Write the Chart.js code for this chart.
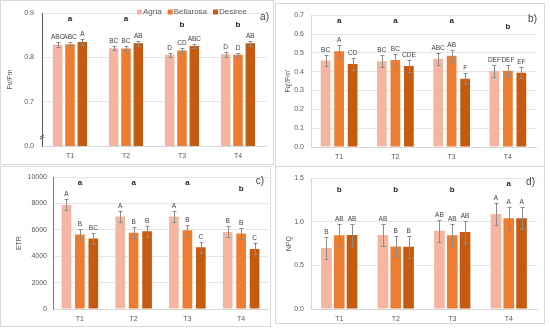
<!DOCTYPE html>
<html>
<head>
<meta charset="utf-8">
<script src="https://cdn.jsdelivr.net/npm/chart.js@4.4.2/dist/chart.umd.min.js"></script>
<style>
  html, body { margin: 0; padding: 0; background: #fff; }
  body { width: 550px; height: 335px; position: relative; overflow: hidden; }
  .panel { position: absolute; box-sizing: border-box; border: 1px solid #d9d9d9; background: #fff; }
  .panel canvas { display: block; }
</style>
</head>
<body>
<div class="panel" id="panel-a"><canvas id="chart-a"></canvas></div>
<div class="panel" id="panel-b"><canvas id="chart-b"></canvas></div>
<div class="panel" id="panel-c"><canvas id="chart-c"></canvas></div>
<div class="panel" id="panel-d"><canvas id="chart-d"></canvas></div>
<script>
// ── Data ─────────────────────────────────────────────────────
const categories = ['T1', 'T2', 'T3', 'T4'];
const cultivars  = ['Agria', 'Bellarosa', 'Desiree'];

// a) Fv/Fm
const fvfmAgria     = [0.829, 0.821, 0.806, 0.807];
const fvfmBellarosa = [0.830, 0.820, 0.816, 0.806];
const fvfmDesiree   = [0.835, 0.832, 0.826, 0.832];
const fvfmErr       = [[0.005, 0.005, 0.005, 0.005], [0.005, 0.005, 0.005, 0.005], [0.006, 0.005, 0.005, 0.005]];
const fvfmLetters   = [['ABC', 'BC', 'D', 'D'], ['ABC', 'BC', 'CD', 'D'], ['A', 'AB', 'ABC', 'AB']];
const fvfmGroups    = ['a', 'a', 'b', 'b'];
const fvfmTicks     = ['0.0', '0.7', '0.8', '0.9'];

// b) Fq'/Fm'
const fqfmAgria     = [0.460, 0.455, 0.469, 0.404];
const fqfmBellarosa = [0.509, 0.462, 0.484, 0.405];
const fqfmDesiree   = [0.441, 0.430, 0.363, 0.395];
const fqfmErr       = [[0.031, 0.031, 0.031, 0.031], [0.031, 0.031, 0.031, 0.031], [0.031, 0.031, 0.031, 0.031]];
const fqfmLetters   = [['BC', 'BC', 'ABC', 'DEF'], ['A', 'BC', 'AB', 'DEF'], ['CD', 'CDE', 'F', 'EF']];
const fqfmGroups    = ['a', 'a', 'a', 'b'];

// c) ETR
const etrAgria      = [7900, 7020, 7020, 5850];
const etrBellarosa  = [5660, 5780, 5980, 5730];
const etrDesiree    = [5340, 5900, 4680, 4560];
const etrErr        = [[420, 420, 420, 420], [420, 420, 420, 420], [420, 420, 420, 420]];
const etrLetters    = [['A', 'A', 'A', 'B'], ['B', 'B', 'B', 'B'], ['BC', 'B', 'C', 'C']];
const etrGroups     = ['a', 'a', 'a', 'b'];

// d) NPQ
const npqAgria      = [0.70, 0.85, 0.896, 1.09];
const npqBellarosa  = [0.845, 0.717, 0.845, 1.04];
const npqDesiree    = [0.849, 0.713, 0.882, 1.04];
const npqErr        = [[0.13, 0.125, 0.125, 0.125], [0.125, 0.125, 0.125, 0.125], [0.125, 0.125, 0.125, 0.125]];
const npqLetters    = [['B', 'AB', 'AB', 'A'], ['AB', 'B', 'AB', 'A'], ['AB', 'B', 'AB', 'A']];
const npqGroups     = ['b', 'b', 'b', 'a'];

const colors = ['#f4b6a0', '#ed7d31', '#c55a11'];
const FONT = "'Liberation Sans', Arial, sans-serif";
const TEXT = '#595959';

// ── Annotations: error bars, letters, legend, panel tag ─────
const annotPlugin = {
  id: 'annot',
  afterDatasetsDraw(chart, args, o) {
    const { ctx, chartArea, scales: { x, y } } = chart;
    ctx.save();
    ctx.font = `6.5px ${FONT}`;
    ctx.textAlign = 'center';
    ctx.textBaseline = 'bottom';
    chart.data.datasets.forEach((ds, di) => {
      chart.getDatasetMeta(di).data.forEach((bar, i) => {
        const v = ds.data[i], e = o.errors[di][i];
        const yt = Math.round(y.getPixelForValue(v + e)) + 0.5;
        const yb = Math.round(y.getPixelForValue(v - e)) + 0.5;
        const cx = Math.round(bar.x) + 0.5;
        ctx.strokeStyle = '#8c8c8c';
        ctx.lineWidth = 1;
        ctx.beginPath();
        ctx.moveTo(cx, yt); ctx.lineTo(cx, yb);
        ctx.moveTo(cx - 2, yt); ctx.lineTo(cx + 2, yt);
        ctx.moveTo(cx - 2, yb); ctx.lineTo(cx + 2, yb);
        ctx.stroke();
        ctx.fillStyle = '#404040';
        ctx.fillText(o.letters[di][i], bar.x, yt - 2);
      });
    });

    ctx.font = `bold 8px ${FONT}`;
    ctx.textBaseline = 'middle';
    ctx.fillStyle = '#262626';
    o.groups.forEach((g, i) => {
      ctx.fillText(g, x.getPixelForValue(i), chartArea.top + (g === 'a' ? 6 : 12));
    });

    ctx.font = `10px ${FONT}`;
    ctx.textAlign = 'right';
    ctx.fillStyle = '#404040';
    ctx.fillText(o.tag, chartArea.right + o.tagDx, chartArea.top + 4);

    if (o.axisBreak) {
      const yb = chartArea.bottom - 10, xl = chartArea.left;
      ctx.strokeStyle = '#595959';
      ctx.beginPath();
      ctx.moveTo(xl - 2, yb + 1); ctx.lineTo(xl + 2, yb - 1);
      ctx.moveTo(xl - 2, yb + 3); ctx.lineTo(xl + 2, yb + 1);
      ctx.stroke();
    }

    if (o.legend) {
      let lx = o.legend.x;
      ctx.font = `8px ${FONT}`;
      ctx.textAlign = 'left';
      ctx.textBaseline = 'middle';
      chart.data.datasets.forEach(ds => {
        ctx.fillStyle = ds.backgroundColor;
        ctx.fillRect(lx, o.legend.y - 2.5, 5, 5);
        ctx.fillStyle = TEXT;
        ctx.fillText(ds.label, lx + 6, o.legend.y);
        lx += 6 + ctx.measureText(ds.label).width + 6;
      });
    }
    ctx.restore();
  }
};

function makePanel(id, box, area, cfg) {
  const panel = document.getElementById('panel-' + id);
  Object.assign(panel.style, { left: box.left + 'px', top: box.top + 'px', width: box.w + 'px', height: box.h + 'px' });
  const canvas = document.getElementById('chart-' + id);
  const cw = box.w - 2, ch = box.h - 2;
  canvas.width = cw; canvas.height = ch;
  canvas.style.width = cw + 'px'; canvas.style.height = ch + 'px';

  // chart area in canvas coordinates
  const l = area.l - box.left - 1, t = area.t - box.top - 1;
  const r = area.r - box.left - 1, b = area.b - box.top - 1;

  return new Chart(canvas.getContext('2d'), {
    type: 'bar',
    data: {
      labels: categories,
      datasets: cfg.series.map((s, i) => ({
        label: cultivars[i],
        data: s,
        backgroundColor: colors[i],
        borderWidth: 0,
        categoryPercentage: cfg.catPct,
        barPercentage: cfg.barPct,
      })),
    },
    options: {
      responsive: false,
      animation: false,
      layout: { padding: { top: t, right: cw - r, left: 0, bottom: 0 } },
      plugins: {
        legend: { display: false },
        tooltip: { enabled: false },
        annot: cfg.annot,
      },
      scales: {
        x: {
          afterFit: s => { s.height = ch - b; },
          grid: { display: false, drawTicks: false },
          border: { color: '#d9d9d9' },
          ticks: { color: TEXT, font: { family: FONT, size: 7 }, padding: 6 },
        },
        y: {
          min: cfg.min, max: cfg.max,
          afterFit: s => { s.width = l; },
          afterBuildTicks: s => { s.ticks = cfg.tickValues.map(v => ({ value: v })); },
          grid: { color: '#e6e6e6', drawTicks: false },
          border: { color: cfg.axisColor },
          ticks: { color: TEXT, font: { family: FONT, size: 7 }, padding: cfg.tickPad, callback: cfg.tickFmt },
          title: { display: true, text: cfg.title, color: TEXT, font: { family: FONT, size: 7 }, padding: { top: cfg.titlePad, bottom: 0 } },
        },
      },
    },
    plugins: [annotPlugin],
  });
}

// a) broken axis: bottom tick stands for 0.0
makePanel('a', { left: 0, top: 0, w: 274, h: 165 }, { l: 42, t: 12, r: 266, b: 146 }, {
  series: [fvfmAgria, fvfmBellarosa, fvfmDesiree],
  min: 0.6, max: 0.9, tickValues: [0.6, 0.7, 0.8, 0.9],
  tickFmt: (v, i) => fvfmTicks[i],
  title: 'Fv/Fm', titlePad: 5, tickPad: 8, axisColor: '#595959',
  catPct: 0.66, barPct: 0.77,
  annot: { errors: fvfmErr, letters: fvfmLetters, groups: fvfmGroups, tag: 'a)', tagDx: 3, axisBreak: true, legend: { x: 136, y: 11 } },
});

makePanel('b', { left: 275, top: 3, w: 270, h: 164 }, { l: 311, t: 12, r: 536, b: 147 }, {
  series: [fqfmAgria, fqfmBellarosa, fqfmDesiree],
  min: 0, max: 0.7, tickValues: [0, 0.1, 0.2, 0.3, 0.4, 0.5, 0.6, 0.7],
  tickFmt: v => v.toFixed(1),
  title: "Fq'/Fm'", titlePad: 8, tickPad: 7, axisColor: '#d9d9d9',
  catPct: 0.72, barPct: 0.72,
  annot: { errors: fqfmErr, letters: fqfmLetters, groups: fqfmGroups, tag: 'b)', tagDx: 1 },
});

makePanel('c', { left: 0, top: 166, w: 271, h: 161 }, { l: 53, t: 172, r: 268, b: 309 }, {
  series: [etrAgria, etrBellarosa, etrDesiree],
  min: 0, max: 10000, tickValues: [0, 2000, 4000, 6000, 8000, 10000],
  tickFmt: v => String(v),
  title: 'ETR', titlePad: 14, tickPad: 6, axisColor: '#7f7f7f',
  catPct: 0.75, barPct: 0.72,
  annot: { errors: etrErr, letters: etrLetters, groups: etrGroups, tag: 'c)', tagDx: -4 },
});

makePanel('d', { left: 275, top: 166, w: 270, h: 158 }, { l: 311, t: 172, r: 537, b: 309 }, {
  series: [npqAgria, npqBellarosa, npqDesiree],
  min: 0, max: 1.5, tickValues: [0, 0.5, 1.0, 1.5],
  tickFmt: v => v.toFixed(1),
  title: 'NPQ', titlePad: 9, tickPad: 7, axisColor: '#d9d9d9',
  catPct: 0.68, barPct: 0.83,
  annot: { errors: npqErr, letters: npqLetters, groups: npqGroups, tag: 'd)', tagDx: -2 },
});
</script>
</body>
</html>
